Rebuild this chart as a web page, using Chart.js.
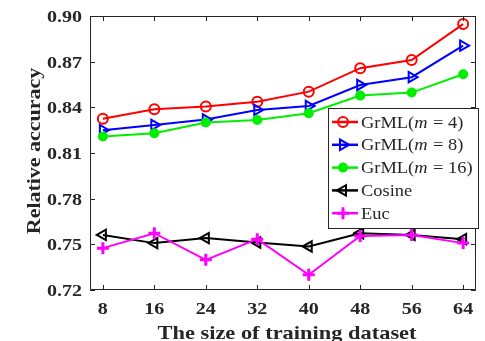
<!DOCTYPE html>
<html><head><meta charset="utf-8">
<script src="https://cdn.jsdelivr.net/npm/chart.js@4.4.0/dist/chart.umd.min.js"></script>
<style>html,body{margin:0;padding:0;background:#fff}#w{width:485px;height:341px}</style>
</head><body><div id="w"><canvas id="c"></canvas></div>
<script>
const sizes = [8, 16, 24, 32, 40, 48, 56, 64];
const grml4  = [0.8325, 0.8387, 0.8405, 0.8437, 0.8503, 0.8657, 0.8711, 0.8947];
const grml8  = [0.8250, 0.8284, 0.8320, 0.8383, 0.8409, 0.8547, 0.8598, 0.8805];
const grml16 = [0.8208, 0.8230, 0.8300, 0.8317, 0.8361, 0.8477, 0.8497, 0.8617];
const cosine = [0.7562, 0.7508, 0.7541, 0.7512, 0.7486, 0.7573, 0.7562, 0.7534];
const euc    = [0.7475, 0.7573, 0.7398, 0.7534, 0.7300, 0.7555, 0.7562, 0.7508];
const yTicks = [0.72, 0.75, 0.78, 0.81, 0.84, 0.87, 0.90];
const xTitle = 'The size of training dataset';
const yTitle = 'Relative accuracy';

const series = [
  {name:'GrML4', label:['GrML(', 'm', ' = 4)'], data:grml4, color:'#ff0000', style:'circle', r:5, fill:false, rot:0},
  {name:'GrML8', label:['GrML(', 'm', ' = 8)'], data:grml8, color:'#0000ff', style:'triangle', r:6, fill:false, rot:90},
  {name:'GrML16', label:['GrML(', 'm', ' = 16)'], data:grml16, color:'#00ee00', style:'circle', r:4, fill:true, rot:0},
  {name:'Cosine', label:['Cosine'], data:cosine, color:'#000000', style:'triangle', r:6, fill:false, rot:-90},
  {name:'Euc', label:['Euc'], data:euc, color:'#ff00ff', style:'cross', r:6, fill:false, rot:0}
];

const datasets = series.map((s, i) => ({
  label: s.name,
  data: s.data.map((v, j) => ({x: sizes[j], y: v})),
  borderColor: s.color,
  backgroundColor: s.fill ? s.color : '#ffffff',
  pointBackgroundColor: s.fill ? s.color : 'rgba(0,0,0,0)',
  pointBorderColor: s.color,
  pointStyle: s.style,
  pointRadius: s.r,
  pointRotation: s.rot,
  pointBorderWidth: s.style === 'cross' ? 3 : 2,
  borderWidth: 2,
  tension: 0,
  fill: false,
  order: 5 - i
}));

const SERIF = '"Liberation Serif", "Times New Roman", serif';
function stext(ctx, t, x, y, font, sx, align, base, rot) {
  ctx.save();
  ctx.translate(x, y);
  if (rot) ctx.rotate(rot);
  ctx.scale(sx, 1);
  ctx.font = font;
  ctx.textAlign = align;
  ctx.textBaseline = base;
  ctx.fillText(t, 0, 0);
  ctx.restore();
}

const frame = {
  id: 'frame',
  afterDatasetsDraw(chart) {
    const {ctx, chartArea: a, scales} = chart;
    ctx.save();
    ctx.strokeStyle = '#262626';
    ctx.lineWidth = 1;
    ctx.beginPath();
    ctx.rect(a.left + 0.5, a.top + 0.5, a.right - a.left - 1, a.bottom - a.top - 1);
    ctx.stroke();
    ctx.beginPath();
    sizes.forEach(v => {
      const x = Math.round(scales.x.getPixelForValue(v)) + 0.5;
      ctx.moveTo(x, a.bottom); ctx.lineTo(x, a.bottom - 5);
      ctx.moveTo(x, a.top); ctx.lineTo(x, a.top + 5);
    });
    yTicks.forEach(v => {
      const y = Math.round(scales.y.getPixelForValue(v)) + 0.5;
      ctx.moveTo(a.left, y); ctx.lineTo(a.left + 5, y);
      ctx.moveTo(a.right, y); ctx.lineTo(a.right - 5, y);
    });
    ctx.stroke();

    // tick labels and titles (horizontally stretched like the reference)
    ctx.fillStyle = '#262626';
    const tf = 'bold 17px ' + SERIF;
    sizes.forEach(v => stext(ctx, String(v), scales.x.getPixelForValue(v), 314, tf, 1.18, 'center', 'alphabetic'));
    yTicks.forEach(v => stext(ctx, v.toFixed(2), a.left - 8, scales.y.getPixelForValue(v) + 6, tf, 1.18, 'right', 'alphabetic'));
    stext(ctx, xTitle, (a.left + a.right) / 2 + 4, 339, 'bold 19px ' + SERIF, 1.18, 'center', 'alphabetic');
    stext(ctx, yTitle, 40, 151, 'bold 18px ' + SERIF, 1.22, 'center', 'alphabetic', -Math.PI / 2);

    // legend
    const L = 328, T = 108, R = 478, B = 228;
    ctx.fillStyle = '#ffffff';
    ctx.fillRect(L, T, R - L, B - T);
    ctx.strokeStyle = '#262626';
    ctx.lineWidth = 1;
    ctx.strokeRect(L + 0.5, T + 0.5, R - L, B - T);
    series.forEach((s, i) => {
      const cy = 122 + i * 22.8;
      ctx.strokeStyle = s.color;
      ctx.lineWidth = 2.5;
      ctx.beginPath(); ctx.moveTo(332, cy); ctx.lineTo(358, cy); ctx.stroke();
      ctx.lineWidth = s.style === 'cross' ? 3 : 2;
      ctx.fillStyle = s.fill ? s.color : 'rgba(0,0,0,0)';
      Chart.helpers.drawPoint(ctx, {pointStyle: s.style, radius: s.r, rotation: s.rot, borderWidth: ctx.lineWidth}, 343, cy);
      if (s.fill) ctx.fill();
      ctx.fillStyle = '#262626';
      let x = 361;
      s.label.forEach((t, k) => {
        const f = (k === 1 ? 'italic ' : '') + '16px ' + SERIF;
        stext(ctx, t, x, cy + 5.5, f, 1.15, 'left', 'alphabetic');
        ctx.font = f;
        x += ctx.measureText(t).width * 1.15 + (k === 1 ? 1 : 0);
      });
    });
    ctx.restore();
  }
};

new Chart(document.getElementById('c'), {
  type: 'line',
  data: {datasets},
  plugins: [frame],
  options: {
    responsive: true,
    maintainAspectRatio: false,
    animation: false,
    layout: {padding: {top: 16, right: 4, left: 0, bottom: 0}},
    plugins: {legend: {display: false}, tooltip: {enabled: false}},
    scales: {
      x: {
        type: 'linear', min: 6, max: 66,
        afterBuildTicks: s => { s.ticks = sizes.map(v => ({value: v})); },
        afterFit: s => { s.height = 51; },
        grid: {display: false, drawTicks: false},
        border: {display: false},
        ticks: {display: false},
        title: {display: false, text: xTitle}
      },
      y: {
        type: 'linear', min: 0.72, max: 0.90,
        afterBuildTicks: s => { s.ticks = yTicks.map(v => ({value: v})); },
        afterFit: s => { s.width = 90; },
        grid: {display: false, drawTicks: false},
        border: {display: false},
        ticks: {display: false},
        title: {display: false, text: yTitle}
      }
    }
  }
});
</script></body></html>
